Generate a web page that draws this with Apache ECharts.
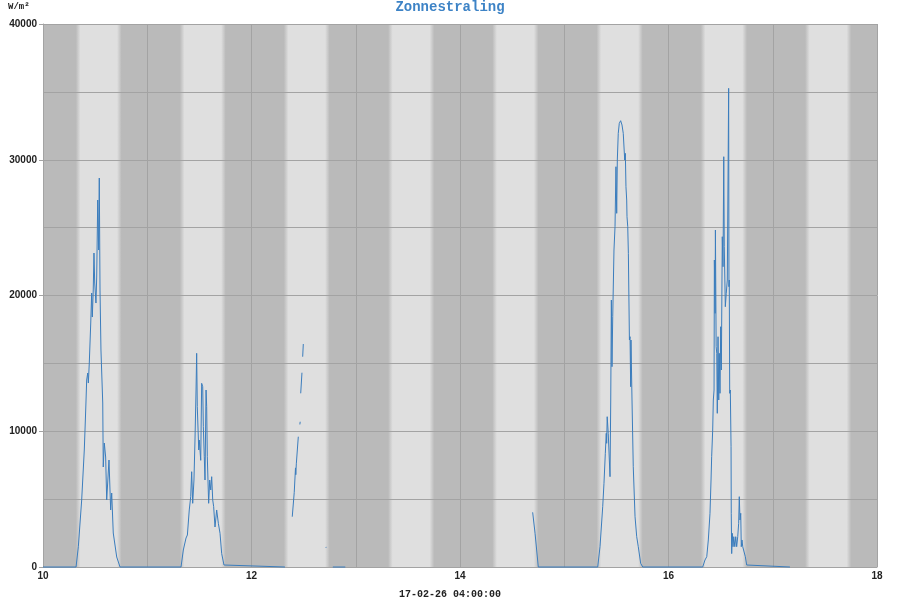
<!DOCTYPE html>
<html><head><meta charset="utf-8">
<script src="https://cdn.jsdelivr.net/npm/echarts@6/dist/echarts.min.js"></script>
<style>html,body{margin:0;padding:0;background:#fff}#c{width:900px;height:600px}</style>
</head><body><div id="c"></div>
<script>
const titleText = 'Zonnestraling';
const unitText = 'W/m²';
const dateText = '17-02-26 04:00:00';
const xTicks = [10, 12, 14, 16, 18];
const yTicks = [0, 10000, 20000, 30000, 40000];
// daylight bands (sunrise / sunset, in axis units)
const sunrise = [10.335, 11.333, 12.330, 13.330, 14.330, 15.330, 16.330, 17.330];
const sunset  = [10.734, 11.733, 12.730, 13.733, 14.733, 15.733, 16.733, 17.733];
// measured radiation (null = no data)
const times = [
  10.000, 10.317, 10.339, 10.371, 10.396, 10.403, 10.412, 10.419, 10.429, 10.435,
  10.444, 10.458, 10.467, 10.473, 10.482, 10.489, 10.496, 10.508, 10.515, 10.525,
  10.534, 10.540, 10.547, 10.556, 10.573, 10.578, 10.588, 10.601, 10.611, 10.633,
  10.649, 10.659, 10.674, 10.707, 10.739,
  11.324, 11.346, 11.372, 11.385, 11.403, 11.417, 11.426, 11.436, 11.448, 11.458,
  11.468, 11.474, 11.480, 11.494, 11.499, 11.513, 11.522, 11.532, 11.538, 11.547,
  11.554, 11.564, 11.570, 11.576, 11.589, 11.599, 11.609, 11.618, 11.628, 11.637,
  11.650, 11.666, 11.682, 11.698, 11.714, 11.736, 11.753,
  12.321, 12.350,
  12.391, 12.410, 12.422, 12.425, 12.430, 12.449, 12.455,
  12.464, 12.467, 12.469,
  12.472, 12.484, 12.488,
  12.491, 12.497, 12.600,
  12.714, 12.717, 12.750,
  12.780, 12.900, 13.500,
  14.697, 14.720, 14.751,
  15.321, 15.343, 15.369, 15.381, 15.394, 15.403, 15.407, 15.412, 15.422, 15.439,
  15.446, 15.452, 15.458, 15.465, 15.477, 15.487, 15.496, 15.503, 15.509, 15.518,
  15.528, 15.541, 15.554, 15.566, 15.580, 15.586, 15.592, 15.599, 15.602, 15.609,
  15.615, 15.625, 15.631, 15.637, 15.640, 15.650, 15.662, 15.679, 15.695, 15.710,
  15.733, 15.753,
  16.328, 16.350, 16.367, 16.382, 16.398, 16.408, 16.414, 16.424, 16.430, 16.437,
  16.440, 16.447, 16.450, 16.457, 16.463, 16.468, 16.475, 16.482, 16.487, 16.494,
  16.501, 16.507, 16.513, 16.516, 16.523, 16.530, 16.535, 16.545, 16.554, 16.564,
  16.571, 16.577, 16.580, 16.583, 16.587, 16.593, 16.600, 16.602, 16.606, 16.612,
  16.619, 16.626, 16.636, 16.645, 16.654, 16.664, 16.673, 16.679, 16.686, 16.693,
  16.698, 16.705, 16.712, 16.724, 16.737, 16.750, 16.760,
  17.165
];
const values = [
  0, 0, 1495, 4935, 8618, 10091, 12080, 13774, 14290, 13553,
  15027, 17973, 20183, 18415, 20404, 23129, 20919, 19446, 21361, 27033,
  23350, 28654, 20404, 15984, 12080, 7366, 9134, 8103, 4935, 7882,
  4199, 5451, 2504, 737, 0,
  0, 1252, 2136, 2357, 4199, 5180, 7020, 4692, 6408, 9355,
  13038, 15741, 11808, 8618, 9355, 7860, 13531, 13281, 10335, 8125,
  6408, 13038, 11808, 8125, 4692, 6408, 5672, 6652, 4935, 4442,
  2946, 4199, 3219, 2482, 987, 147, 0,
  0, null,
  3705, 5500, 7300, 6800, 7600, 9598, null,
  10500, 10700, null,
  12795, 14312, null,
  15491, 16426, null,
  1420, 1480, null,
  0, 0, null,
  4029, 2482, 0,
  0, 1495, 4442, 6165, 8375, 9848, 9112, 11071, 9848, 6652,
  12301, 19667, 14754, 18437, 23350, 25067, 29486, 26054, 29980, 31946,
  32682, 32877, 32560, 31946, 29980, 30471, 28016, 27033, 25803, 25067,
  23107, 16721, 16964, 13281, 16721, 12301, 7388, 3705, 2232, 1495,
  272, 0,
  0, 516, 759, 1989, 3955, 6408, 8125, 10091, 12301, 13038,
  22614, 18688, 24824, 16227, 15741, 11321, 16964, 12301, 15741, 12795,
  17700, 14511, 21140, 24330, 22120, 30224, 23594, 19174, 20161, 21140,
  28507, 35261, 20647, 21140, 12795, 13038, 8861, 3955, 987, 2482,
  1495, 2232, 1495, 2232, 1495, 2232, 3219, 5180, 3462, 3955,
  1495, 1989, 1495, 1495, 759, 147, 0,
  0
];

const DARK = '#bababa', LIGHT = '#dfdfdf', GRID = '#a3a3a3';
const seriesData = times.map((t, i) => [t, values[i] === null ? '-' : values[i]]);
const bandGradient = {
  type: 'linear', x: 0, y: 0, x2: 1, y2: 0,
  colorStops: [
    {offset: 0, color: DARK}, {offset: 0.1, color: LIGHT},
    {offset: 0.9, color: LIGHT}, {offset: 1, color: DARK}
  ]
};
const bands = sunrise.map((s, i) => [
  {xAxis: s - 0.02, itemStyle: {color: bandGradient}},
  {xAxis: Math.min(sunset[i] + 0.02, 18)}
]);

const labelFont = {fontFamily: 'Liberation Sans', fontWeight: 'bold', fontSize: 10, color: '#222'};
const chart = echarts.init(document.getElementById('c'), null, {renderer: 'canvas'});
chart.setOption({
  animation: false,
  title: {
    text: titleText, left: 'center', top: 0, padding: 0,
    textStyle: {fontFamily: 'Liberation Mono', fontWeight: 'bold', fontSize: 14, color: '#3d83c6'}
  },
  graphic: [
    {type: 'text', left: 8, top: 2, style: {text: unitText, font: 'bold 9px "Liberation Mono"', fill: '#222'}},
    {type: 'text', left: 'center', top: 589, style: {text: dateText, font: 'bold 10px "Liberation Mono"', fill: '#222'}}
  ],
  grid: {left: 43, right: 23, top: 24, bottom: 33, show: true, backgroundColor: DARK, borderWidth: 0},
  xAxis: {
    type: 'value', min: 10, max: 18, interval: 1, z: 2,
    axisLine: {show: true, lineStyle: {color: GRID}},
    axisTick: {show: false},
    splitLine: {show: true, lineStyle: {color: GRID, width: 1}},
    axisLabel: Object.assign({margin: 4, showMinLabel: true, showMaxLabel: true,
      formatter: v => xTicks.includes(v) ? String(v) : ''}, labelFont)
  },
  yAxis: [
    {
      type: 'value', min: 0, max: 40000, interval: 10000, z: 2,
      axisLine: {show: true, lineStyle: {color: GRID}},
      axisTick: {show: true, length: 4, lineStyle: {color: GRID}},
      splitLine: {show: true, lineStyle: {color: GRID, width: 1}},
      axisLabel: Object.assign({margin: 6, formatter: v => yTicks.includes(v) ? String(v) : ''}, labelFont)
    },
    {
      type: 'value', min: 0, max: 40000, interval: 5000, z: 2, position: 'left',
      axisLine: {show: false}, axisTick: {show: false}, axisLabel: {show: false},
      splitLine: {show: true, lineStyle: {color: GRID, width: 1}}
    }
  ],
  series: [
    {
      type: 'line', data: [], z: 1, silent: true,
      markArea: {silent: true, data: bands}
    },
    {
      type: 'line', data: seriesData, z: 3, showSymbol: false, symbol: 'none', clip: false,
      connectNulls: false, lineStyle: {color: '#3b7dbd', width: 1}, silent: true
    }
  ]
});
</script>
</body></html>
